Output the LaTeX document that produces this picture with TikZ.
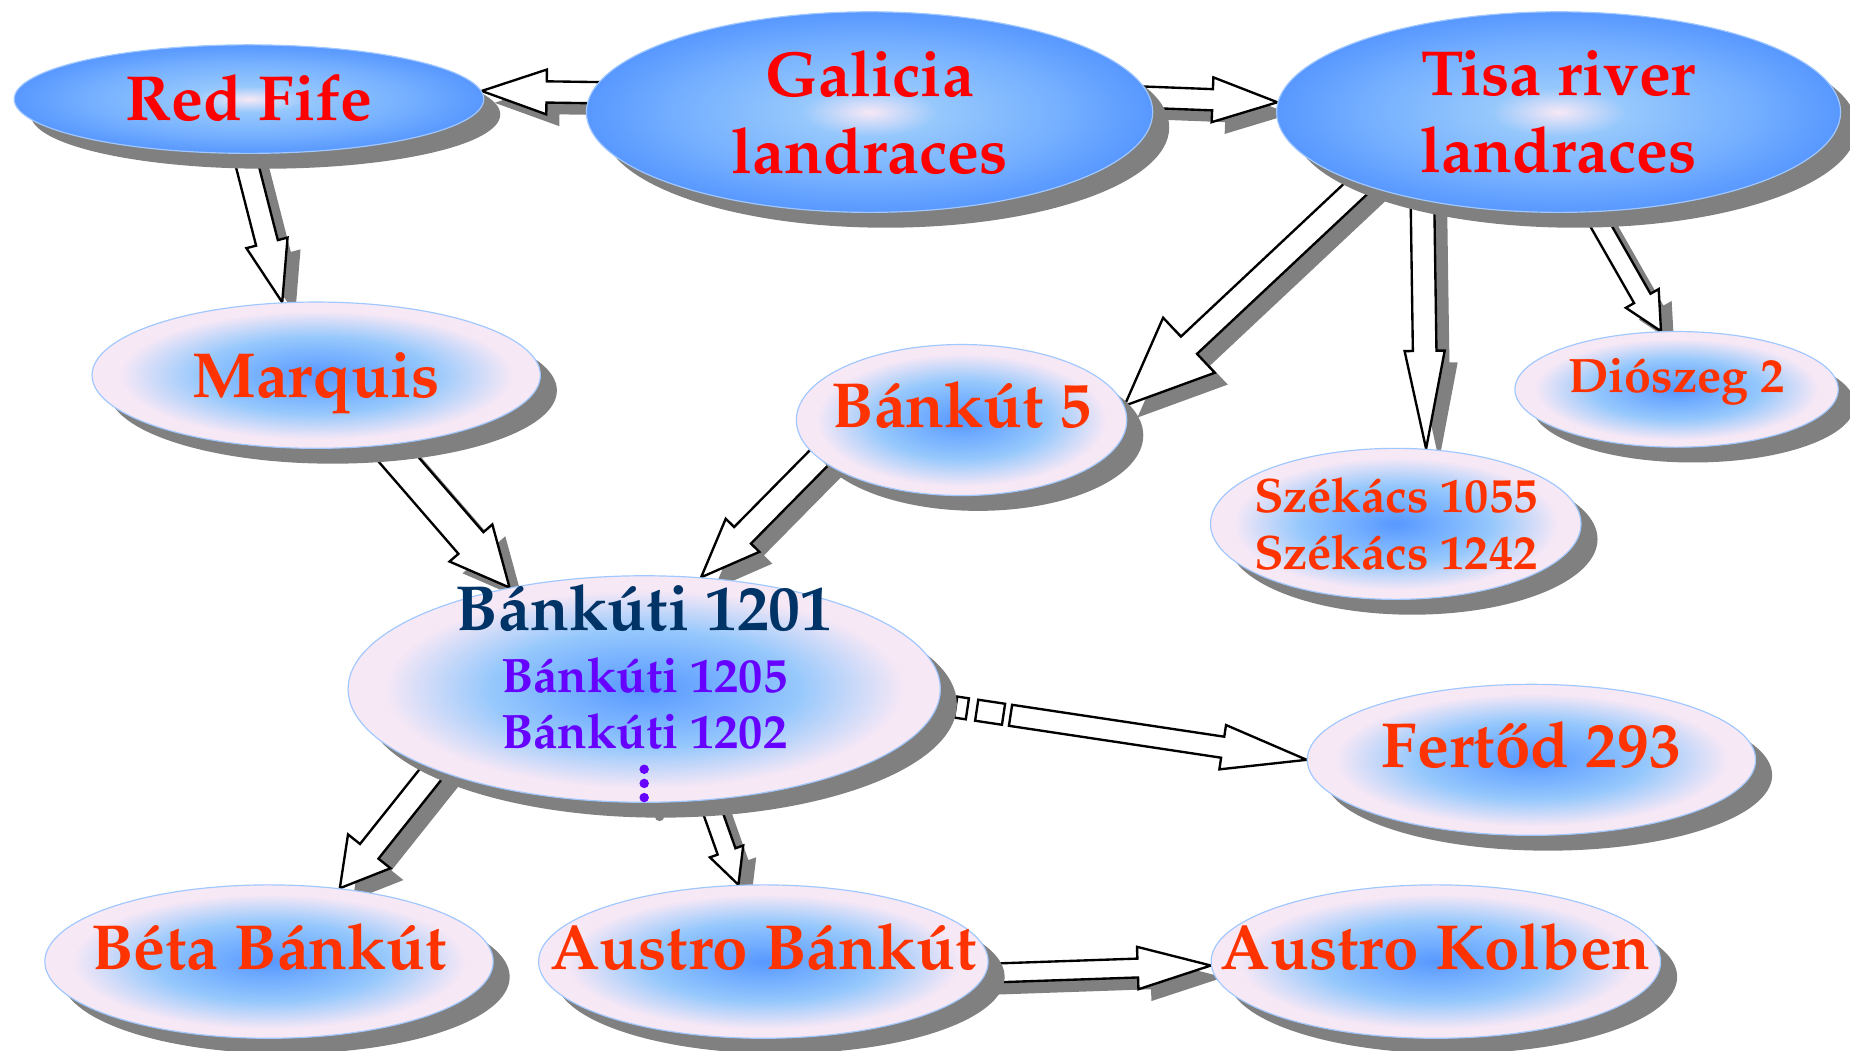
\documentclass[tikz,border=0pt]{standalone}
\usepackage[T1]{fontenc}
\usepackage{mathpazo}
\usetikzlibrary{calc,shapes.geometric,shadows,backgrounds}

\definecolor{nodeblue}{RGB}{88,152,255}
\definecolor{nodemid}{RGB}{120,178,255}
\definecolor{nodelight}{RGB}{150,200,252}
\definecolor{nodepink}{RGB}{247,232,246}
\definecolor{rimblue}{RGB}{160,200,255}
\definecolor{txtred}{RGB}{255,0,0}
\definecolor{txtorange}{RGB}{255,51,0}
\definecolor{navytxt}{RGB}{0,51,102}
\definecolor{subviolet}{RGB}{102,0,255}
\definecolor{shadegray}{RGB}{128,128,128}

\pgfdeclareradialshading{bluerim}{\pgfpoint{0bp}{0bp}}{%
  color(0bp)=(nodepink); color(6bp)=(nodelight); color(16bp)=(nodemid);
  color(25bp)=(nodeblue); color(50bp)=(nodeblue)}
\pgfdeclareradialshading{pinkrim}{\pgfpoint{0bp}{0bp}}{%
  color(0bp)=(nodeblue); color(7bp)=(nodemid); color(13bp)=(nodelight);
  color(22bp)=(nodepink); color(25bp)=(nodepink); color(50bp)=(nodepink)}

\tikzset{
  ell/.style={ellipse, draw=rimblue, line width=1pt, inner sep=-60pt,
    drop shadow={shadow xshift=14pt, shadow yshift=-13pt, fill=shadegray, opacity=1}},
  topell/.style={ell, shading=bluerim, text=txtred, align=center,
    font=\bfseries\fontsize{54}{65}\selectfont},
  lowell/.style={ell, shading=pinkrim, text=txtorange, align=center,
    font=\bfseries\fontsize{54}{65}\selectfont},
  smallfont/.style={font=\bfseries\fontsize{41}{48}\selectfont},
  capmid/.style={text height=37pt, text depth=0pt},
  capup/.style={text height=37pt, text depth=24pt},
  smallup/.style={text height=28pt, text depth=22pt},
  fat/.style={draw=black, fill=white, line width=2pt, line join=miter},
  fatshadow/.style={fill=shadegray, transform canvas={shift={(11pt,-10pt)}}},
  fatnone/.style={}
}

% block arrow: [shadow] tail, tip, shaft half width, head half width, head length
\newcommand{\fattail}{-25pt}
\newcommand{\fatbody}[4]{%
  \path[#1] ($(fatT)!#3!90:(#2)$) -- ($(fatB)!#3!90:(#2)$) -- ($(fatB)!#4!90:(#2)$) -- (#2)
    -- ($(fatB)!#4!-90:(#2)$) -- ($(fatB)!#3!-90:(#2)$) -- ($(fatT)!#3!-90:(#2)$) -- cycle;}
\newcommand{\fatarrow}[6][fatshadow]{%
  \coordinate (fatT) at ($(#2)!\fattail!(#3)$);
  \coordinate (fatB) at ($(#3)!#6!(#2)$);
  \fatbody{#1}{#3}{#4}{#5}
  \fatbody{fat}{#3}{#4}{#5}}
\newcommand{\fatstripe}[4]{%
  \coordinate (stA) at ($(#1)!#3!(#2)$);
  \coordinate (stB) at ($(#1)!#4!(#2)$);
  \path[fat] ($(stA)!9pt!90:(#2)$) -- ($(stB)!9pt!90:(#2)$)
    -- ($(stB)!9pt!-90:(#2)$) -- ($(stA)!9pt!-90:(#2)$) -- cycle;}

\begin{document}
\begin{tikzpicture}[x=1pt,y=-1pt]
\useasboundingbox (0,0) rectangle (1568,890);

% landraces
\node[topell, capmid, minimum width=398pt, minimum height=92pt] (redfife) at (211,84) {Red Fife};
\node[topell, minimum width=480pt, minimum height=170pt] (gal) at (737,95) {Galicia\\landraces};
\node[topell, minimum width=478pt, minimum height=170pt] (tisa) at (1321,95) {Tisa river\\landraces};

% second row
\node[lowell, capmid, minimum width=380pt, minimum height=124pt] (marquis) at (268,318) {Marquis};
\node[lowell, capup, minimum width=280pt, minimum height=128pt] (b5) at (815,356) {B\'ank\'ut 5};
\node[lowell, smallfont, smallup, minimum width=274pt, minimum height=98pt] (dio) at (1421,330) {Di\'oszeg 2};
\node[lowell, smallfont, minimum width=314pt, minimum height=128pt] (szek) at (1183,444) {Sz\'ek\'acs 1055\\Sz\'ek\'acs 1242};

% Bankuti 1201 group
\node[lowell, minimum width=502pt, minimum height=192pt] (b1201) at (546,584) {};
\node[font=\bfseries\fontsize{54}{60}\selectfont, text=navytxt] (b1201a) at (546,515) {B\'ank\'uti 1201};
\node[smallfont, text=subviolet] (b1205) at (546,572) {B\'ank\'uti 1205};
\node[smallfont, text=subviolet] (b1202) at (546,620) {B\'ank\'uti 1202};
\fill[shadegray] (559,692) circle (4);
\foreach \y in {652,664,676}
  \fill[subviolet] (546,\y) circle (4);

\node[lowell, capup, minimum width=380pt, minimum height=128pt] (fert) at (1298,644) {Fert\H{o}d 293};

% bottom row
\node[lowell, capup, minimum width=380pt, minimum height=130pt] (beta) at (228,815) {B\'eta B\'ank\'ut};
\node[lowell, capup, minimum width=381pt, minimum height=130pt] (austrob) at (647,815) {Austro B\'ank\'ut};
\node[lowell, capup, minimum width=381pt, minimum height=130pt] (austrok) at (1217,815) {Austro Kolben};

\begin{scope}[on background layer]
\fatarrow{gal.176}{redfife.2}{9pt}{19pt}{55pt}
\fatarrow{gal.3}{tisa.178}{9pt}{19pt}{55pt}
\fatarrow{redfife.-95}{marquis.115}{9.5pt}{18pt}{52pt}
\fatarrow{marquis.-45}{b1201.143}{14pt}{24pt}{50pt}
\fatarrow{b5.195}{b1201.63}{10pt}{20pt}{50pt}
\fatarrow{tisa.200}{b5.5}{10pt}{32pt}{75pt}
\fatarrow{tisa.213}{szek.68}{10pt}{17pt}{83pt}
\fatarrow{tisa.-71}{dio.105}{8pt}{16pt}{32pt}
\fatarrow{b1201.201}{beta.46}{10pt}{23pt}{40pt}
\fatarrow{b1201.-60}{austrob.108}{8pt}{15pt}{30pt}
\fatarrow{austrob.-3}{austrok.181}{8pt}{18pt}{62pt}
% striped arrow to Fertod
\fatstripe{b1201.-3}{fert.180}{15pt}{25pt}
\fatstripe{b1201.-3}{fert.180}{33pt}{56pt}
{\renewcommand{\fattail}{62pt}\fatarrow[fatnone]{b1201.-3}{fert.180}{9pt}{19pt}{72pt}}
\end{scope}
\end{tikzpicture}
\end{document}
